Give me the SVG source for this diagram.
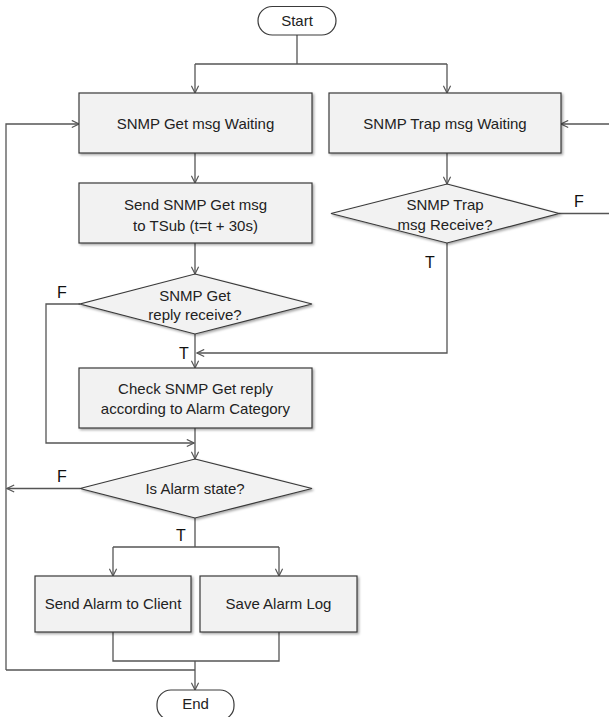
<svg xmlns="http://www.w3.org/2000/svg" width="609" height="717" viewBox="0 0 609 717">
<defs>
<marker id="arr" viewBox="0 0 10 10" refX="9" refY="5" markerWidth="9" markerHeight="9" markerUnits="userSpaceOnUse" orient="auto">
<path d="M1,1 L9,5 L1,9" fill="none" stroke="#555" stroke-width="1.3"/>
</marker>
<filter id="sh" x="-5%" y="-5%" width="112%" height="120%">
<feDropShadow dx="1.5" dy="1.5" stdDeviation="1" flood-color="#000" flood-opacity="0.35"/>
</filter>
</defs>
<style>
.box{fill:#f2f2f2;stroke:#3a3a3a;stroke-width:1.2;filter:url(#sh)}
.term{fill:#fff;stroke:#3a3a3a;stroke-width:1.2}
.t{font-family:"Liberation Sans",Arial,sans-serif;font-size:15px;fill:#222;text-anchor:middle}
.lb{font-family:"Liberation Sans",Arial,sans-serif;font-size:16px;fill:#111;text-anchor:middle}
.c{fill:none;stroke:#555;stroke-width:1.3}
.ca{fill:none;stroke:#555;stroke-width:1.3;marker-end:url(#arr)}
</style>
<rect width="609" height="717" fill="#fff"/>
<g id="connectors">
<path class="c" d="M297,35 V64 M195,64 H447"/>
<path class="ca" d="M195,64 V93"/>
<path class="ca" d="M447,64 V93"/>
<path class="ca" d="M195,153 V183"/>
<path class="ca" d="M447,153 V184"/>
<path class="ca" d="M195,243 V274"/>
<path class="ca" d="M559,213.5 H614 V124 H561"/>
<path class="ca" d="M447,243 V353 H197"/>
<path class="ca" d="M195,334 V368"/>
<path class="ca" d="M80,304 H46 V443 H194"/>
<path class="ca" d="M195,428 V459"/>
<path class="ca" d="M80,488.5 H7"/>
<path class="ca" d="M6,670 V124 H79"/>
<path class="c" d="M6,670 H195"/>
<path class="c" d="M195,518 V547 M113,547 H279"/>
<path class="ca" d="M113,547 V576"/>
<path class="ca" d="M279,547 V576"/>
<path class="c" d="M113,632 V661 H279 V632"/>
<path class="ca" d="M195,661 V690"/>
</g>
<g id="start">
<rect class="term" x="258" y="6.5" width="78" height="28.5" rx="14.25"/>
<text class="t" x="297" y="26">Start</text>
</g>
<g id="get-wait">
<rect class="box" x="79" y="93" width="233" height="60"/>
<text class="t" x="195.5" y="128.5">SNMP Get msg Waiting</text>
</g>
<g id="trap-wait">
<rect class="box" x="329" y="93" width="232" height="60"/>
<text class="t" x="445" y="128.5">SNMP Trap msg Waiting</text>
</g>
<g id="send-get">
<rect class="box" x="79" y="183" width="233" height="60"/>
<text class="t" x="195.5" y="210">Send SNMP Get msg</text>
<text class="t" x="195.5" y="231">to TSub (t=t + 30s)</text>
</g>
<g id="trap-recv">
<polygon class="box" points="447,184 559,213.5 447,243 331,213.5"/>
<text class="t" x="445" y="210">SNMP Trap</text>
<text class="t" x="445" y="230">msg Receive?</text>
</g>
<g id="get-recv">
<polygon class="box" points="195,274 312,304 195,334 80,304"/>
<text class="t" x="195" y="301">SNMP Get</text>
<text class="t" x="195" y="320">reply receive?</text>
</g>
<g id="check">
<rect class="box" x="79" y="368" width="233" height="60"/>
<text class="t" x="195.5" y="394">Check SNMP Get reply</text>
<text class="t" x="195.5" y="414">according to Alarm Category</text>
</g>
<g id="alarm-state">
<polygon class="box" points="195,459 312,488.5 195,518 80,488.5"/>
<text class="t" x="195" y="494">Is Alarm state?</text>
</g>
<g id="send-alarm">
<rect class="box" x="35" y="576" width="156" height="56"/>
<text class="t" x="113" y="609">Send Alarm to Client</text>
</g>
<g id="save-log">
<rect class="box" x="200" y="576" width="157" height="56"/>
<text class="t" x="278.5" y="609">Save Alarm Log</text>
</g>
<g id="end">
<rect class="term" x="157" y="690" width="77" height="30" rx="14"/>
<text class="t" x="195.5" y="709">End</text>
</g>
<g id="labels">
<text class="lb" x="579" y="207">F</text>
<text class="lb" x="430" y="268">T</text>
<text class="lb" x="62" y="298">F</text>
<text class="lb" x="184" y="359">T</text>
<text class="lb" x="62" y="482">F</text>
<text class="lb" x="181" y="541">T</text>
</g>
</svg>
